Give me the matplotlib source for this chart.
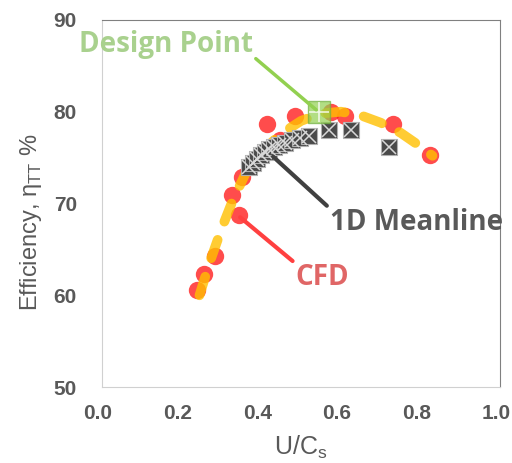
import matplotlib.pyplot as plt
import matplotlib.transforms as mtransforms

# CFD results
cfd_x = [0.240, 0.256, 0.284, 0.326, 0.343, 0.352, 0.414, 0.447, 0.484, 0.575, 0.610, 0.732, 0.824]
cfd_y = [60.6, 62.3, 64.3, 70.9, 68.7, 72.9, 78.7, 76.9, 79.5, 80.0, 79.5, 78.7, 75.3]

# trend line through CFD
trend_x = [0.245, 0.27, 0.30, 0.33, 0.36, 0.40, 0.45, 0.50, 0.55, 0.60, 0.65, 0.70, 0.75, 0.80, 0.83]
trend_y = [60.0, 63.5, 67.2, 70.5, 73.2, 75.6, 77.6, 79.0, 79.8, 80.0, 79.6, 78.8, 77.7, 76.2, 75.2]

# 1D meanline
mean_x = [0.370, 0.380, 0.390, 0.400, 0.410, 0.420, 0.432, 0.445, 0.460, 0.478, 0.497, 0.520, 0.570, 0.625, 0.720]
mean_y = [74.0, 74.4, 74.9, 75.3, 75.6, 75.9, 76.1, 76.4, 76.6, 76.9, 77.1, 77.3, 78.0, 78.0, 76.2]

# design point
dp_x = [0.544]
dp_y = [80.0]

plt.rcParams["font.family"] = ["Liberation Sans", "DejaVu Sans"]

fig = plt.figure(figsize=(5.12, 4.63), dpi=100)
ax = fig.add_axes([0.199, 0.164, 0.778, 0.793])

ax.plot(cfd_x, cfd_y, "o", color="#FF1F1F", alpha=0.8, markersize=12.5, markeredgewidth=0, zorder=3)
ax.plot(trend_x, trend_y, color="#FFC000", alpha=0.8, linewidth=7, linestyle=(0, (2.0, 2.0)),
        solid_capstyle="round", dash_capstyle="round", zorder=4)
ax.plot(mean_x, mean_y, "s", color="#4A4A4A", markeredgecolor="#B0B0B0", markeredgewidth=0.8,
        markersize=12, zorder=5)
ax.plot(mean_x, mean_y, "x", color="#D8D8D8", markersize=10, markeredgewidth=1.1, zorder=6)
ax.plot(dp_x, dp_y, "s", color="#92D050", alpha=0.7, markeredgecolor="#70B040", markersize=16, zorder=7)
ax.plot(dp_x, dp_y, "+", color="white", markersize=14, markeredgewidth=1.2, alpha=0.8, zorder=8)

# callouts
ax.annotate("Design Point", xy=(0.538, 80.2), xytext=(0.161, 87.3), color="#A9D18E",
            fontsize=20, fontweight="bold", ha="center", va="center", family=["Open Sans", "DejaVu Sans"],
            arrowprops=dict(arrowstyle="-", color="#92D050", lw=2.5, shrinkA=0, shrinkB=0,
                            relpos=(1.0, 0.1)), annotation_clip=False, zorder=9)
ax.annotate("1D Meanline", xy=(0.43, 75.1), xytext=(0.789, 67.9), color="#595959",
            fontsize=20, fontweight="bold", ha="center", va="center", family=["Open Sans", "DejaVu Sans"],
            arrowprops=dict(arrowstyle="-", color="#404040", lw=3, shrinkA=0, shrinkB=0,
                            relpos=(0.0, 1.0)), annotation_clip=False, zorder=9)
ax.annotate("CFD", xy=(0.347, 68.5), xytext=(0.553, 61.9), color="#E06666",
            fontsize=20, fontweight="bold", ha="center", va="center", family=["Open Sans", "DejaVu Sans"],
            arrowprops=dict(arrowstyle="-", color="#FF4040", lw=3, shrinkA=0, shrinkB=0,
                            relpos=(0.0, 1.0)), annotation_clip=False, zorder=9)

ax.set_xlim(0, 1.0)
ax.set_ylim(50, 90)
ax.set_xticks([0.0, 0.2, 0.4, 0.6, 0.8, 1.0])
ax.set_xticklabels(["0.0", "0.2", "0.4", "0.6", "0.8", "1.0"])
ax.set_yticks([50, 60, 70, 80, 90])
ax.tick_params(length=0, labelsize=15, labelcolor="#595959")
ax.tick_params(axis="x", pad=12)
ax.tick_params(axis="y", pad=18)
shift = mtransforms.ScaledTranslation(-4 / 100, 0, fig.dpi_scale_trans)
for lab in ax.get_xticklabels():
    lab.set_transform(lab.get_transform() + shift)
for lab in ax.get_xticklabels() + ax.get_yticklabels():
    lab.set_fontweight("bold")
for side in ["left", "bottom"]:
    ax.spines[side].set_color("#D0D0D0")
for side in ["top", "right"]:
    ax.spines[side].set_color("#808080")

ax.set_xlabel("U/C$_\\mathregular{s}$", fontsize=18, color="#595959", labelpad=8)
ax.set_ylabel("Efficiency, η$_\\mathregular{TT}$ %", fontsize=17, color="#595959")
ax.yaxis.set_label_coords(-0.145, 0.45)

fig.savefig("out.png", dpi=100)
